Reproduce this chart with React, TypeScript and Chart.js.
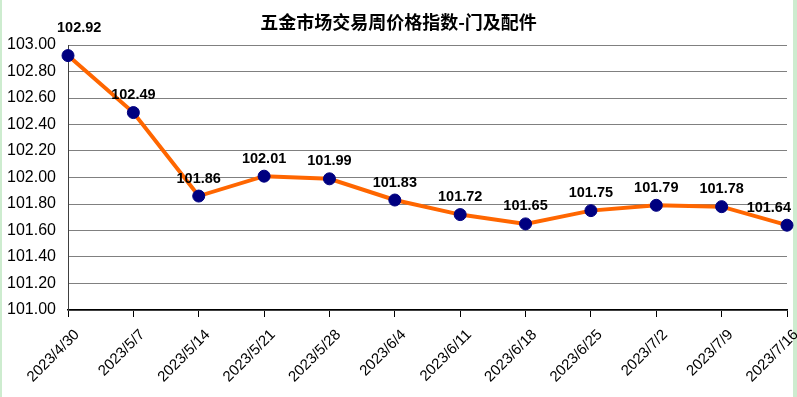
import React, { useEffect, useRef } from "react";
import { Chart, registerables } from "chart.js";

Chart.register(...registerables);

const categories = [
  "2023/4/30", "2023/5/7", "2023/5/14", "2023/5/21", "2023/5/28", "2023/6/4",
  "2023/6/11", "2023/6/18", "2023/6/25", "2023/7/2", "2023/7/9", "2023/7/16",
];
const values = [102.92, 102.49, 101.86, 102.01, 101.99, 101.83, 101.72, 101.65, 101.75, 101.79, 101.78, 101.64];
const titleText = "五金市场交易周价格指数-门及配件";
const yMin = 101;
const yMax = 103;
const yStep = 0.2;

const FONT = "'Liberation Sans', Arial, sans-serif";

const decorPlugin = {
  id: "decor",
  beforeDraw(chart: any) {
    const ctx = chart.ctx;
    const w = chart.width;
    const h = chart.height;
    ctx.save();
    ctx.fillStyle = "#cdeccf";
    ctx.fillRect(0, 0, w, h);
    ctx.fillStyle = "#ffffff";
    ctx.fillRect(2, 0, 791, h);
    ctx.restore();
  },
  afterDraw(chart: any) {
    const ctx = chart.ctx;
    ctx.save();
    ctx.fillStyle = "#000000";
    ctx.font = "bold 18px 'Noto Sans CJK SC', sans-serif";
    ctx.textAlign = "center";
    ctx.textBaseline = "middle";
    ctx.fillText(titleText, chart.width / 2, 22);
    ctx.restore();
  },
  afterDatasetsDraw(chart: any) {
    const ctx = chart.ctx;
    const meta = chart.getDatasetMeta(0);
    const top = chart.chartArea.top;
    ctx.save();
    ctx.font = `bold 14.5px ${FONT}`;
    ctx.fillStyle = "#000000";
    ctx.textAlign = "center";
    ctx.textBaseline = "middle";
    meta.data.forEach((pt: any, i: number) => {
      const txt = values[i].toFixed(2);
      const tw = ctx.measureText(txt).width;
      let x = pt.x;
      x = Math.max(x, 57 + tw / 2);
      x = Math.min(x, 791 - tw / 2);
      let y = pt.y - 17.5;
      // keep label clear of the plot's top border
      if (y + 8 > top && y - 8 < top) y = top - 17;
      ctx.fillText(txt, x, y);
    });
    ctx.restore();
  },
};

export default function App() {
  const ref = useRef<HTMLCanvasElement | null>(null);
  useEffect(() => {
    if (!ref.current) return;
    const chart = new Chart(ref.current, {
      type: "line",
      data: {
        labels: categories,
        datasets: [
          {
            data: values,
            borderColor: "#ff6600",
            borderWidth: 4,
            pointBackgroundColor: "#000080",
            pointBorderColor: "#000080",
            pointRadius: 6,
            pointBorderWidth: 1,
            tension: 0,
          },
        ],
      },
      options: {
        animation: false,
        responsive: true,
        maintainAspectRatio: false,
        layout: { padding: { top: 45, right: 10, left: 0, bottom: 0 } },
        plugins: {
          legend: { display: false },
          title: { display: false },
          tooltip: { enabled: false },
        },
        scales: {
          x: {
            grid: { drawOnChartArea: false, drawTicks: true, tickLength: 7, color: "#000000" },
            border: { color: "#000000", width: 1.5 },
            ticks: {
              color: "#000000",
              font: { family: FONT, size: 15 },
              maxRotation: 45,
              minRotation: 45,
              autoSkip: false,
              labelOffset: 9,
              padding: 9,
            },
            afterFit(s: any) {
              s.height = 87;
              s.paddingLeft = 0;
              s.paddingRight = 0;
            },
          },
          y: {
            min: yMin,
            max: yMax,
            grid: { color: "#808080", lineWidth: 1, drawTicks: false },
            border: { color: "#404040", width: 1 },
            ticks: {
              stepSize: yStep,
              color: "#000000",
              font: { family: FONT, size: 16 },
              padding: 12,
              callback: (v: any) => Number(v).toFixed(2),
            },
            afterFit(s: any) {
              s.width = 68;
            },
          },
        },
      },
      plugins: [decorPlugin],
    });
    return () => chart.destroy();
  }, []);
  return (
    <div style={{ position: "fixed", left: 0, top: 0, width: 797, height: 397 }}>
      <canvas ref={ref} />
    </div>
  );
}
